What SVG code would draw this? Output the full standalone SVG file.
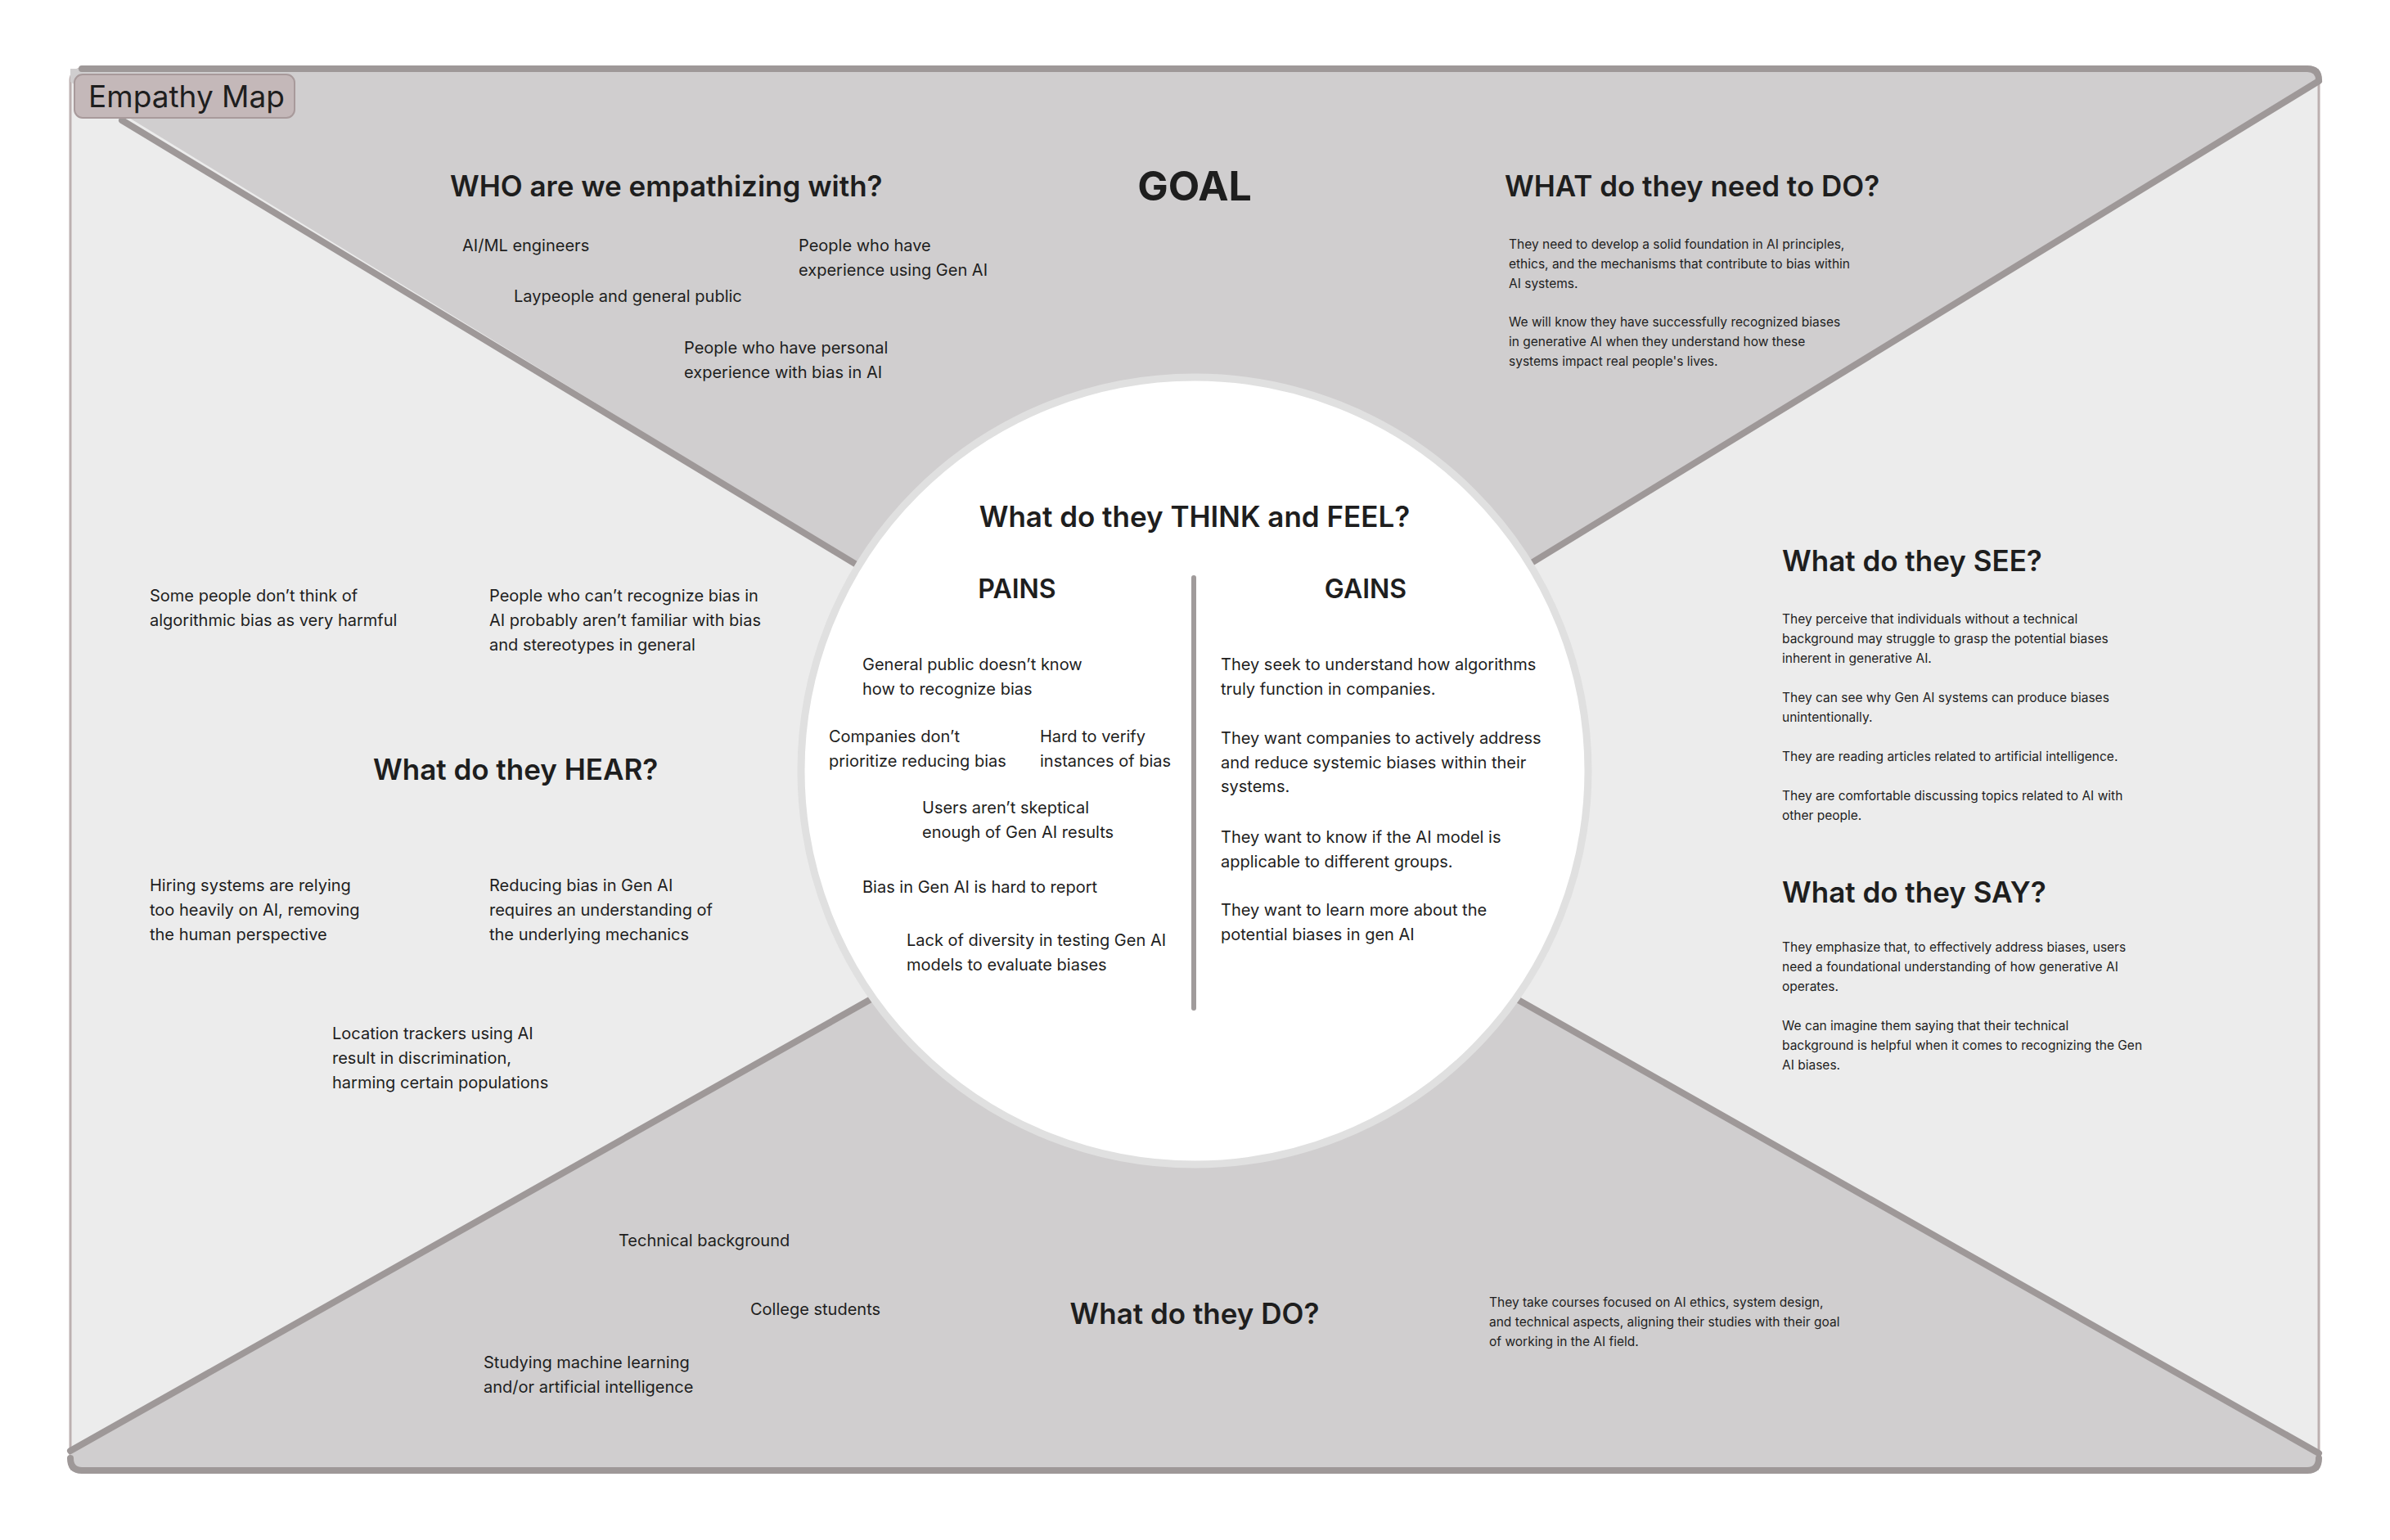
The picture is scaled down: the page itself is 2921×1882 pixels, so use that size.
<svg xmlns="http://www.w3.org/2000/svg" width="2921" height="1882" viewBox="0 0 2921 1882">
<style>
text{font-family:Inter,"Noto Sans","Liberation Sans",sans-serif;fill:#1e1e1e}
.h{font-size:35px;font-weight:600}
.s{font-size:20px}
.xs{font-size:15.5px}
.c{text-anchor:middle}
.edge{stroke:#9e9898;stroke-width:8;fill:none;stroke-linecap:round}
</style>
<rect width="2921" height="1882" fill="#ffffff"/>
<g id="frame">
<rect x="86" y="84" width="2748" height="1713" rx="14" fill="#ececec" stroke="#bcb0b0" stroke-width="3"/>
<polygon points="86,84 2834,84 2834,100 1460,940 86,100" fill="#d0cecf"/>
<polygon points="86,1797 2834,1797 2834,1776 1460,998 86,1773" fill="#d0cecf"/>
<path d="M100,84 H2820 Q2834,84 2834,98" class="edge"/>
<path d="M86,1782 Q86,1797 100,1797 H2820 Q2834,1797 2834,1782" class="edge"/>
</g>
<g id="connectors">
<line x1="149" y1="147" x2="1460" y2="940" class="edge"/>
<line x1="2834" y1="99" x2="1460" y2="940" class="edge"/>
<line x1="86" y1="1773" x2="1460" y2="998" class="edge"/>
<line x1="2834" y1="1776" x2="1460" y2="998" class="edge"/>
</g>
<g id="label">
<rect x="91" y="91" width="269" height="53" rx="10" fill="#c4b8b9" stroke="#a89a9b" stroke-width="2"/>
<text x="108" y="131" style="font-size:37px">Empathy Map</text>
</g>
<g id="who">
<text x="550" y="240" class="h">WHO are we empathizing with?</text>
<text x="565" y="307" class="s">AI/ML engineers</text>
<text x="976" y="307" class="s">People who have</text>
<text x="976" y="337" class="s">experience using Gen AI</text>
<text x="628" y="369" class="s">Laypeople and general public</text>
<text x="836" y="432" class="s">People who have personal</text>
<text x="836" y="462" class="s">experience with bias in AI</text>
</g>
<g id="goal"><text x="1460" y="245" class="c" style="font-size:50px;font-weight:700">GOAL</text></g>
<g id="need">
<text x="1839" y="240" class="h">WHAT do they need to DO?</text>
<text x="1844" y="304" class="xs">They need to develop a solid foundation in AI principles,</text>
<text x="1844" y="328" class="xs">ethics, and the mechanisms that contribute to bias within</text>
<text x="1844" y="352" class="xs">AI systems.</text>
<text x="1844" y="399" class="xs">We will know they have successfully recognized biases</text>
<text x="1844" y="423" class="xs">in generative AI when they understand how these</text>
<text x="1844" y="447" class="xs">systems impact real people's lives.</text>
</g>
<g id="think">
<circle cx="1460" cy="942" r="481" fill="#ffffff" stroke="#e0e0e0" stroke-width="9"/>
<text x="1460" y="644" class="h c">What do they THINK and FEEL?</text>
<text x="1243" y="731" class="c" style="font-size:32px;font-weight:600">PAINS</text>
<text x="1669" y="731" class="c" style="font-size:32px;font-weight:600">GAINS</text>
<line x1="1459" y1="706" x2="1459" y2="1232" stroke="#a09b9b" stroke-width="6" stroke-linecap="round"/>
<text x="1054" y="819" class="s">General public doesn’t know</text>
<text x="1054" y="849" class="s">how to recognize bias</text>
<text x="1013" y="907" class="s">Companies don’t</text>
<text x="1013" y="937" class="s">prioritize reducing bias</text>
<text x="1271" y="907" class="s">Hard to verify</text>
<text x="1271" y="937" class="s">instances of bias</text>
<text x="1127" y="994" class="s">Users aren’t skeptical</text>
<text x="1127" y="1024" class="s">enough of Gen AI results</text>
<text x="1054" y="1091" class="s">Bias in Gen AI is hard to report</text>
<text x="1108" y="1156" class="s">Lack of diversity in testing Gen AI</text>
<text x="1108" y="1186" class="s">models to evaluate biases</text>
<text x="1492" y="819" class="s">They seek to understand how algorithms</text>
<text x="1492" y="849" class="s">truly function in companies.</text>
<text x="1492" y="909" class="s">They want companies to actively address</text>
<text x="1492" y="939" class="s">and reduce systemic biases within their</text>
<text x="1492" y="968" class="s">systems.</text>
<text x="1492" y="1030" class="s">They want to know if the AI model is</text>
<text x="1492" y="1060" class="s">applicable to different groups.</text>
<text x="1492" y="1119" class="s">They want to learn more about the</text>
<text x="1492" y="1149" class="s">potential biases in gen AI</text>
</g>
<g id="hear">
<text x="456" y="953" class="h">What do they HEAR?</text>
<text x="183" y="735" class="s">Some people don’t think of</text>
<text x="183" y="765" class="s">algorithmic bias as very harmful</text>
<text x="598" y="735" class="s">People who can’t recognize bias in</text>
<text x="598" y="765" class="s">AI probably aren’t familiar with bias</text>
<text x="598" y="795" class="s">and stereotypes in general</text>
<text x="183" y="1089" class="s">Hiring systems are relying</text>
<text x="183" y="1119" class="s">too heavily on AI, removing</text>
<text x="183" y="1149" class="s">the human perspective</text>
<text x="598" y="1089" class="s">Reducing bias in Gen AI</text>
<text x="598" y="1119" class="s">requires an understanding of</text>
<text x="598" y="1149" class="s">the underlying mechanics</text>
<text x="406" y="1270" class="s">Location trackers using AI</text>
<text x="406" y="1300" class="s">result in discrimination,</text>
<text x="406" y="1330" class="s">harming certain populations</text>
</g>
<g id="do">
<text x="1460" y="1618" class="h c">What do they DO?</text>
<text x="756" y="1523" class="s">Technical background</text>
<text x="917" y="1607" class="s">College students</text>
<text x="591" y="1672" class="s">Studying machine learning</text>
<text x="591" y="1702" class="s">and/or artificial intelligence</text>
<text x="1820" y="1597" class="xs">They take courses focused on AI ethics, system design,</text>
<text x="1820" y="1621" class="xs">and technical aspects, aligning their studies with their goal</text>
<text x="1820" y="1645" class="xs">of working in the AI field.</text>
</g>
<g id="see">
<text x="2178" y="698" class="h">What do they SEE?</text>
<text x="2178" y="762" class="xs">They perceive that individuals without a technical</text>
<text x="2178" y="786" class="xs">background may struggle to grasp the potential biases</text>
<text x="2178" y="810" class="xs">inherent in generative AI.</text>
<text x="2178" y="858" class="xs">They can see why Gen AI systems can produce biases</text>
<text x="2178" y="882" class="xs">unintentionally.</text>
<text x="2178" y="930" class="xs">They are reading articles related to artificial intelligence.</text>
<text x="2178" y="978" class="xs">They are comfortable discussing topics related to AI with</text>
<text x="2178" y="1002" class="xs">other people.</text>
</g>
<g id="say">
<text x="2178" y="1103" class="h">What do they SAY?</text>
<text x="2178" y="1163" class="xs">They emphasize that, to effectively address biases, users</text>
<text x="2178" y="1187" class="xs">need a foundational understanding of how generative AI</text>
<text x="2178" y="1211" class="xs">operates.</text>
<text x="2178" y="1259" class="xs">We can imagine them saying that their technical</text>
<text x="2178" y="1283" class="xs">background is helpful when it comes to recognizing the Gen</text>
<text x="2178" y="1307" class="xs">AI biases.</text>
</g>
</svg>
